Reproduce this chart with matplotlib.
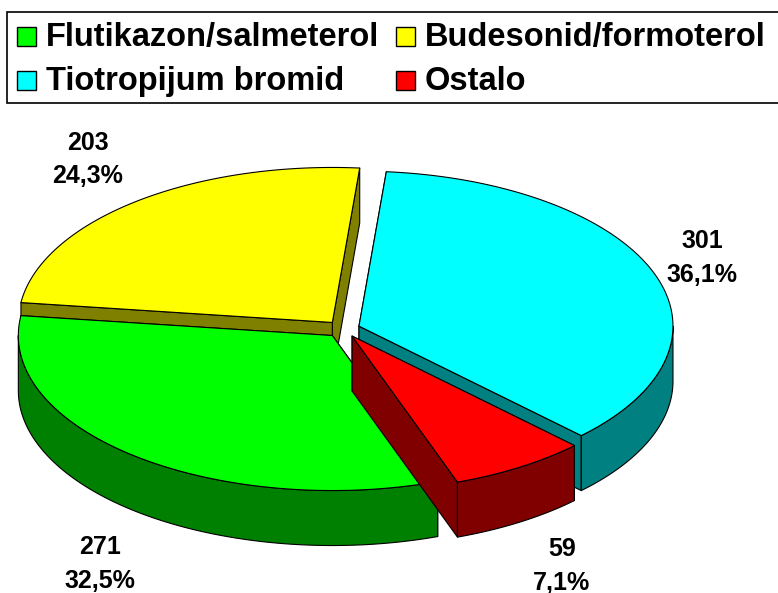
import numpy as np
import matplotlib
matplotlib.use('Agg')
import matplotlib.pyplot as plt
from matplotlib.patches import Polygon, Rectangle

# ---- data ----
categories = ['Flutikazon/salmeterol', 'Budesonid/formoterol', 'Tiotropijum bromid', 'Ostalo']
values = [271, 203, 301, 59]
top_colors = ['#00FF00', '#FFFF00', '#00FFFF', '#FF0000']
side_colors = ['#008000', '#808000', '#008080', '#800000']

# pie drawing order (counter-clockwise from start angle)
pie_order = [1, 0, 3, 2]
# label anchor (center x, first-line baseline) in pixels per category
label_pos = [(100, 554), (87.5, 149.5), (702, 248.5), (562, 556)]

# ---- geometry (pixels) ----
W, H = 778, 593
cx, cy = 343.0, 329.0
a, b = 314.0, 155.0
depth = 55.0
explode = 17.0
start = 85.0

fig = plt.figure(figsize=(W / 100, H / 100), dpi=100)
ax = fig.add_axes([0, 0, 1, 1])
ax.set_xlim(0, W)
ax.set_ylim(H, 0)
ax.axis('off')

FONT = 'Liberation Sans'
total = sum(values)

def arc(x0, y0, t1, t2, n=120, dy=0.0):
    t = np.radians(np.linspace(t1, t2, n))
    return x0 + a * np.cos(t), y0 - b * np.sin(t) + dy

slices = []
ang = start
for idx in pie_order:
    span = 360.0 * values[idx] / total
    t1, t2 = ang, ang + span
    mid = np.radians((t1 + t2) / 2)
    x0 = cx + explode * np.cos(mid)
    y0 = cy - explode * (b / a) * np.sin(mid)
    slices.append((idx, t1, t2, x0, y0))
    ang = t2

def backness(s):
    idx, t1, t2, x0, y0 = s
    return np.sin(np.radians((t1 + t2) / 2))

kw = dict(edgecolor='black', linewidth=0.8, joinstyle='round')
for idx, t1, t2, x0, y0 in sorted(slices, key=backness, reverse=True):
    sc = side_colors[idx]
    tc = top_colors[idx]
    faces = []
    for t, vis in ((t1, np.cos(np.radians(t1)) > 0), (t2, np.cos(np.radians(t2)) < 0)):
        ex = x0 + a * np.cos(np.radians(t))
        ey = y0 - b * np.sin(np.radians(t))
        faces.append((vis, [(x0, y0), (ex, ey), (ex, ey + depth), (x0, y0 + depth)]))
    faces.sort(key=lambda f: f[0])
    for vis, pts in faces:
        ax.add_patch(Polygon(pts, closed=True, facecolor=sc, **kw))
    for k in (0, 1):
        lo = max(t1, 180 + 360 * k)
        hi = min(t2, 360 + 360 * k)
        if hi > lo:
            xs, ys = arc(x0, y0, lo, hi)
            xb, yb = arc(x0, y0, hi, lo, dy=depth)
            pts = np.column_stack([np.r_[xs, xb], np.r_[ys, yb]])
            ax.add_patch(Polygon(pts, closed=True, facecolor=sc, **kw))
    xs, ys = arc(x0, y0, t1, t2)
    pts = np.column_stack([np.r_[x0, xs], np.r_[y0, ys]])
    ax.add_patch(Polygon(pts, closed=True, facecolor=tc, **kw))

# labels
for i, v in enumerate(values):
    pct = f"{100 * v / total:.1f}".replace('.', ',')
    lx, ly = label_pos[i]
    ax.text(lx, ly, f"{v}", ha='center', va='baseline',
            fontsize=18, fontweight='bold', family=FONT, color='black')
    ax.text(lx, ly + 33.5, f"{pct}%", ha='center', va='baseline',
            fontsize=18, fontweight='bold', family=FONT, color='black')

# legend
ax.add_patch(Rectangle((7.5, 12), 800, 91, facecolor='white', edgecolor='black', linewidth=1.2))
leg_pos = [(17, 46), (396, 46), (17, 90), (396, 90)]
for i, name in enumerate(categories):
    lx, ly = leg_pos[i]
    ax.add_patch(Rectangle((lx, ly - 19.5), 19, 19.5, facecolor=top_colors[i], edgecolor='black', linewidth=1.0))
    ax.text(lx + 29, ly, name, ha='left', va='baseline', fontsize=23.5, fontweight='bold',
            family=FONT, color='black')

fig.savefig('out.png', dpi=100)
